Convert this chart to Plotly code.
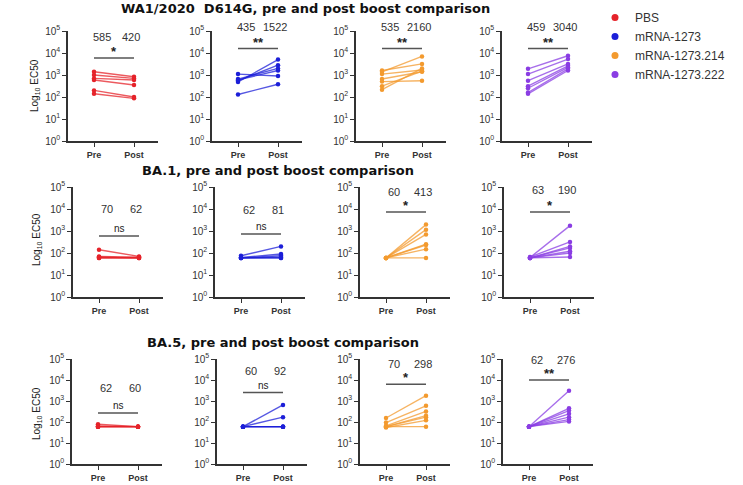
import plotly.graph_objects as go

W, H = 743, 485

# ---------------- data ----------------
groups = ["PBS", "mRNA-1273", "mRNA-1273.214", "mRNA-1273.222"]
colors = ["#e5232a", "#1c1fd8", "#f39a2e", "#8a3de3"]
line_colors = ["rgba(229,35,42,0.75)", "rgba(28,31,216,0.75)",
               "rgba(243,154,46,0.75)", "rgba(138,61,227,0.75)"]
timepoints = ["Pre", "Post"]
titles = ["WA1/2020  D614G, pre and post boost comparison",
          "BA.1, pre and post boost comparison",
          "BA.5, pre and post boost comparison"]
tick_vals = [1, 10, 100, 1000, 10000, 100000]
tick_text = ["10<sup>0</sup>", "10<sup>1</sup>", "10<sup>2</sup>",
             "10<sup>3</sup>", "10<sup>4</sup>", "10<sup>5</sup>"]

# WA1/2020 D614G
wa1_pbs_pre = [1400, 1000, 700, 590, 200, 140]
wa1_pbs_post = [830, 700, 590, 350, 100, 87]
wa1_1273_pre = [1100, 480, 550, 650, 600, 130]
wa1_1273_post = [900, 5000, 2800, 2000, 1600, 380]
wa1_214_pre = [1600, 1400, 1100, 660, 500, 310, 215]
wa1_214_post = [3200, 7000, 1700, 1400, 550, 1500, 2000]
wa1_222_pre = [1900, 1100, 550, 310, 160, 140, 250]
wa1_222_post = [7500, 5300, 3200, 2600, 1900, 1600, 2200]
# BA.1
ba1_pbs_pre = [140, 70, 65, 60, 60, 62]
ba1_pbs_post = [70, 65, 60, 60, 62, 60]
ba1_1273_pre = [75, 62, 60, 60, 60, 60]
ba1_1273_post = [200, 90, 75, 65, 60, 60]
ba1_214_pre = [60, 60, 60, 60, 60, 60, 60]
ba1_214_post = [1950, 1150, 700, 250, 230, 150, 60]
ba1_222_pre = [62, 66, 60, 60, 60, 60, 60]
ba1_222_post = [1750, 320, 200, 170, 120, 66, 100]
# BA.5
ba5_pbs_pre = [78, 65, 60, 60, 60, 60]
ba5_pbs_post = [60, 60, 60, 60, 60, 60]
ba5_1273_pre = [60, 60, 60, 60, 60, 60]
ba5_1273_post = [650, 170, 60, 60, 60, 60]
ba5_214_pre = [155, 94, 66, 60, 55, 60, 60]
ba5_214_post = [1800, 590, 320, 170, 120, 60, 200]
ba5_222_pre = [60, 60, 60, 60, 60, 60, 60]
ba5_222_post = [3100, 450, 350, 245, 170, 130, 107]

mean_labels = [
    [("585", "420"), ("435", "1522"), ("535", "2160"), ("459", "3040")],
    [("70", "62"), ("62", "81"), ("60", "413"), ("63", "190")],
    [("62", "60"), ("60", "92"), ("70", "298"), ("62", "276")],
]
significance = [
    ["*", "**", "**", "**"],
    ["ns", "ns", "*", "*"],
    ["ns", "ns", "*", "**"],
]

panels = [
    [(wa1_pbs_pre, wa1_pbs_post), (wa1_1273_pre, wa1_1273_post),
     (wa1_214_pre, wa1_214_post), (wa1_222_pre, wa1_222_post)],
    [(ba1_pbs_pre, ba1_pbs_post), (ba1_1273_pre, ba1_1273_post),
     (ba1_214_pre, ba1_214_post), (ba1_222_pre, ba1_222_post)],
    [(ba5_pbs_pre, ba5_pbs_post), (ba5_1273_pre, ba5_1273_post),
     (ba5_214_pre, ba5_214_post), (ba5_222_pre, ba5_222_post)],
]

# ---------------- layout geometry (pixels) ----------------
col_x0 = [[68, 212, 356, 502], [73, 215, 360, 504], [72, 217, 360, 503]]
panel_w = 90
row_y = [(31, 141), (187, 297), (359, 464)]
# annotation heights (log10 units): numbers (with extra pixel shift), bar
num_y = [[4.75, 5.0, 5.0, 5.0], [4.0, 3.95, 4.77, 4.86], [3.6, 4.45, 4.77, 4.95]]
num_shift = [[0, 4, 4, 4], [0, 0, 0, 0], [0, 0, 0, 0]]
bar_y = [[3.77, 4.2, 4.2, 4.2], [2.77, 2.86, 3.86, 3.86], [2.43, 3.4, 3.8, 4.0]]
title_pos = [(305, 8), (278, 170), (283, 342)]
ylabel_pos = [(35, 86), (37, 240), (37, 414)]

AX_FONT = dict(family="Liberation Sans, Arial", size=10, color="#333")
fig = go.Figure()
layout = {}
shapes = []
annotations = []

for r in range(3):
    for c in range(4):
        k = r * 4 + c
        xa = "x" if k == 0 else f"x{k+1}"
        ya = "y" if k == 0 else f"y{k+1}"
        pre, post = panels[r][c]
        for i, (a, b) in enumerate(zip(pre, post)):
            fig.add_trace(go.Scatter(
                x=[0, 1], y=[a, b], xaxis=xa, yaxis=ya, mode="lines+markers",
                line=dict(color=line_colors[c], width=1.4),
                marker=dict(color=colors[c], size=4.5),
                showlegend=False, hoverinfo="skip", cliponaxis=False))
        x0 = col_x0[r][c]
        top, bot = row_y[r]
        layout["xaxis" if k == 0 else f"xaxis{k+1}"] = dict(
            domain=[x0 / W, (x0 + panel_w) / W], anchor=ya, automargin=False,
            range=[-0.65, 1.6], tickvals=[0, 1], ticktext=timepoints,
            showline=True, linecolor="#333", linewidth=1.5,
            ticks="outside", ticklen=4, tickcolor="#333", tickwidth=1.3,
            showgrid=False, zeroline=False, fixedrange=True,
            tickfont=dict(family="Liberation Sans, Arial", size=9, color="#333", weight="bold"))
        layout["yaxis" if k == 0 else f"yaxis{k+1}"] = dict(
            domain=[1 - bot / H, 1 - top / H], anchor=xa, type="log", automargin=False,
            range=[0, 5], tickvals=tick_vals, ticktext=tick_text,
            showline=True, linecolor="#333", linewidth=1.5,
            ticks="outside", ticklen=4, tickcolor="#333", tickwidth=1.3,
            showgrid=False, zeroline=False, fixedrange=True, tickfont=AX_FONT)
        # mean labels
        for xv, txt in zip([0.2, 0.92], mean_labels[r][c]):
            annotations.append(dict(
                x=xv, y=num_y[r][c], xref=xa, yref=ya, text=txt, showarrow=False,
                yshift=num_shift[r][c],
                font=dict(family="Liberation Sans, Arial", size=11, color="#333")))
        # significance bar
        shapes.append(dict(type="line", xref=xa, yref=ya, x0=0, x1=1,
                           y0=10 ** bar_y[r][c], y1=10 ** bar_y[r][c],
                           line=dict(color="#555", width=1.5)))
        sig = significance[r][c]
        annotations.append(dict(
            x=0.5, y=bar_y[r][c], xref=xa, yref=ya, text=sig, showarrow=False,
            yanchor="bottom", yshift=(-3 if sig != "ns" else 0),
            font=dict(family="Liberation Sans, Arial",
                      size=(13 if sig != "ns" else 10), color="#222",
                      weight=("bold" if sig != "ns" else "normal"))))

# titles
for t, (tx, ty) in zip(titles, title_pos):
    annotations.append(dict(x=tx / W, y=1 - ty / H, xref="paper", yref="paper",
                            text=t, showarrow=False, xanchor="center", yanchor="middle",
                            font=dict(family="DejaVu Sans", size=13, color="#111", weight="bold")))
# y labels
for (lx, ly) in ylabel_pos:
    annotations.append(dict(x=lx / W, y=1 - ly / H, xref="paper", yref="paper",
                            text="Log<sub>10</sub> EC50", showarrow=False, textangle=-90,
                            xanchor="center", yanchor="middle",
                            font=dict(family="Liberation Sans, Arial", size=10, color="#222")))

# legend entries
for g, col in zip(groups, colors):
    fig.add_trace(go.Scatter(x=[None], y=[None], mode="markers", name=g,
                             marker=dict(color=col, size=7), xaxis="x", yaxis="y",
                             showlegend=True))

fig.update_layout(
    **layout,
    width=W, height=H,
    margin=dict(l=0, r=0, t=0, b=0, autoexpand=False),
    paper_bgcolor="white", plot_bgcolor="white",
    shapes=shapes, annotations=annotations,
    showlegend=True,
    legend=dict(x=595 / W, y=1 - 3 / H, xanchor="left", yanchor="top",
                itemwidth=30, tracegroupgap=0, bgcolor="rgba(0,0,0,0)",
                font=dict(family="Liberation Sans, Arial", size=12, color="#333")),
)

fig.write_html("out.html", config={"displayModeBar": False},
               post_script="document.body.style.margin='0px';")
